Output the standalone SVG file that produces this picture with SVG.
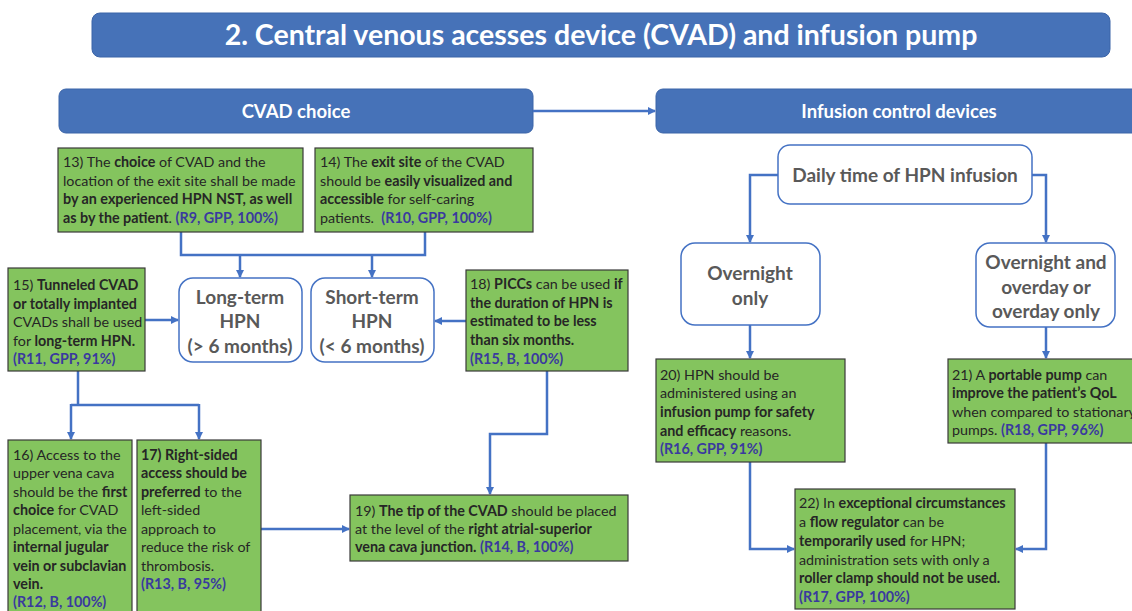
<svg xmlns="http://www.w3.org/2000/svg" width="1132" height="611" viewBox="0 0 1132 611">
<defs>
<marker id="ah" markerWidth="8" markerHeight="8" refX="7" refY="4" orient="auto" markerUnits="userSpaceOnUse">
<path d="M0,0 L8,4 L0,8 Z" fill="#4472C4"/>
</marker>
<style>
.hdr{fill:#4672B8;stroke:#3B64A8;stroke-width:1}
.hdrt{font-family:Lato,"Liberation Sans",sans-serif;font-weight:bold;fill:#fff;text-anchor:middle}
.g{fill:#84C45E;stroke:#3A3A3A;stroke-width:1.2}
.w{fill:#fff;stroke:#4472C4;stroke-width:1.5}
.wt{font-family:Lato,"Liberation Sans",sans-serif;font-weight:bold;fill:#595959;font-size:19px;text-anchor:middle}
.t{font-family:Lato,"Liberation Sans",sans-serif;font-size:14.3px;fill:#262626}
.b{font-weight:bold}
.r{font-weight:bold;fill:#3A3A9E}
.c{fill:none;stroke:#4472C4;stroke-width:2.5}
.ca{fill:none;stroke:#4472C4;stroke-width:2.5;marker-end:url(#ah)}
</style>
</defs>
<rect width="1132" height="611" fill="#fff"/>

<g id="title">
<rect class="hdr" x="92" y="13" width="1018" height="44" rx="8"/>
<text class="hdrt" x="601" y="45" font-size="28.5">2. Central venous acesses device (CVAD) and infusion pump</text>
</g>

<g id="cvad-choice">
<rect class="hdr" x="59" y="89" width="474" height="44" rx="7"/>
<text class="hdrt" x="296" y="118" font-size="18.5">CVAD choice</text>
</g>

<g id="infusion-control">
<rect class="hdr" x="656" y="89" width="500" height="44" rx="7"/>
<text class="hdrt" x="899" y="118" font-size="18.5">Infusion control devices</text>
</g>

<g id="connectors">
<path class="ca" d="M533,111 H655"/>
<path class="c" d="M181,232 V255 H425 V232"/>
<path class="ca" d="M240,255 V277"/>
<path class="ca" d="M372,255 V277"/>
<path class="ca" d="M145,320 H178"/>
<path class="ca" d="M466,321 H435"/>
<path class="c" d="M78,371 V405 M71,405 H199"/>
<path class="ca" d="M71,404 V439"/>
<path class="ca" d="M199,404 V439"/>
<path class="ca" d="M261,529 H349"/>
<path class="ca" d="M547,371 V434 H490 V494"/>
<path class="ca" d="M778,175 H750 V242"/>
<path class="ca" d="M1032,175 H1046 V242"/>
<path class="ca" d="M750,325 V358"/>
<path class="ca" d="M1046,327 V358"/>
<path class="ca" d="M750,462 V549 H794"/>
<path class="ca" d="M1046,443 V549 H1016"/>
</g>

<g id="n13">
<rect class="g" x="58" y="148" width="245" height="84"/>
<text class="t" x="63" y="167">13) The <tspan class="b">choice</tspan> of CVAD and the</text>
<text class="t" x="63" y="186">location of the exit site shall be made</text>
<text class="t b" x="63" y="204">by an experienced HPN NST, as well</text>
<text class="t" x="63" y="223"><tspan class="b">as by the patient</tspan>. <tspan class="r">(R9, GPP, 100%)</tspan></text>
</g>

<g id="n14">
<rect class="g" x="315" y="148" width="218" height="84"/>
<text class="t" x="320" y="167">14) The <tspan class="b">exit site</tspan> of the CVAD</text>
<text class="t" x="320" y="186">should be <tspan class="b">easily visualized and</tspan></text>
<text class="t" x="320" y="204"><tspan class="b">accessible</tspan> for self-caring</text>
<text class="t" x="320" y="223" xml:space="preserve">patients.  <tspan class="r">(R10, GPP, 100%)</tspan></text>
</g>

<g id="long-term">
<rect class="w" x="179" y="278" width="123" height="84" rx="14"/>
<text class="wt" x="240" y="304">Long-term</text>
<text class="wt" x="240" y="328">HPN</text>
<text class="wt" x="240" y="353">(&gt; 6 months)</text>
</g>

<g id="short-term">
<rect class="w" x="311" y="278" width="123" height="84" rx="14"/>
<text class="wt" x="372" y="304">Short-term</text>
<text class="wt" x="372" y="328">HPN</text>
<text class="wt" x="372" y="353">(&lt; 6 months)</text>
</g>

<g id="n15">
<rect class="g" x="8" y="268" width="137" height="103"/>
<text class="t" x="13" y="290">15) <tspan class="b">Tunneled CVAD</tspan></text>
<text class="t b" x="13" y="309">or totally implanted</text>
<text class="t" x="13" y="327">CVADs shall be used</text>
<text class="t" x="13" y="346">for <tspan class="b">long-term HPN.</tspan></text>
<text class="t r" x="13" y="364">(R11, GPP, 91%)</text>
</g>

<g id="n18">
<rect class="g" x="466" y="270" width="162" height="101"/>
<text class="t" x="470" y="289">18) <tspan class="b">PICCs</tspan> can be used <tspan class="b">if</tspan></text>
<text class="t b" x="470" y="308">the duration of HPN is</text>
<text class="t b" x="470" y="326">estimated to be less</text>
<text class="t b" x="470" y="345">than six months.</text>
<text class="t r" x="470" y="364">(R15, B, 100%)</text>
</g>

<g id="n16">
<rect class="g" x="8" y="440" width="124" height="180"/>
<text class="t" x="13" y="460">16) Access to the</text>
<text class="t" x="13" y="478">upper vena cava</text>
<text class="t" x="13" y="497">should be the <tspan class="b">first</tspan></text>
<text class="t" x="13" y="515"><tspan class="b">choice</tspan> for CVAD</text>
<text class="t" x="13" y="534">placement, via the</text>
<text class="t b" x="13" y="552">internal jugular</text>
<text class="t b" x="13" y="571">vein or subclavian</text>
<text class="t b" x="13" y="589">vein.</text>
<text class="t r" x="13" y="607">(R12, B, 100%)</text>
</g>

<g id="n17">
<rect class="g" x="137" y="440" width="124" height="180"/>
<text class="t b" x="141" y="460">17) Right-sided</text>
<text class="t b" x="141" y="478">access should be</text>
<text class="t" x="141" y="497"><tspan class="b">preferred</tspan> to the</text>
<text class="t" x="141" y="515">left-sided</text>
<text class="t" x="141" y="534">approach to</text>
<text class="t" x="141" y="552">reduce the risk of</text>
<text class="t" x="141" y="571">thrombosis.</text>
<text class="t r" x="141" y="589">(R13, B, 95%)</text>
</g>

<g id="n19">
<rect class="g" x="350" y="495" width="278" height="66"/>
<text class="t" x="355" y="516">19) <tspan class="b">The tip of the CVAD</tspan> should be placed</text>
<text class="t" x="355" y="534">at the level of the <tspan class="b">right atrial-superior</tspan></text>
<text class="t" x="355" y="552"><tspan class="b">vena cava junction.</tspan> <tspan class="r">(R14, B, 100%)</tspan></text>
</g>

<g id="daily">
<rect class="w" x="778" y="145" width="254" height="59" rx="12"/>
<text class="wt" x="905" y="182">Daily time of HPN infusion</text>
</g>

<g id="overnight-only">
<rect class="w" x="681" y="243" width="139" height="82" rx="14"/>
<text class="wt" x="750" y="280">Overnight</text>
<text class="wt" x="750" y="305">only</text>
</g>

<g id="overnight-overday">
<rect class="w" x="976" y="243" width="139" height="84" rx="14"/>
<text class="wt" x="1046" y="269">Overnight and</text>
<text class="wt" x="1046" y="294">overday or</text>
<text class="wt" x="1046" y="318">overday only</text>
</g>

<g id="n20">
<rect class="g" x="656" y="359" width="189" height="103"/>
<text class="t" x="660" y="380">20) HPN should be</text>
<text class="t" x="660" y="398">administered using an</text>
<text class="t b" x="660" y="417">infusion pump for safety</text>
<text class="t" x="660" y="436"><tspan class="b">and efficacy</tspan> reasons.</text>
<text class="t r" x="660" y="454">(R16, GPP, 91%)</text>
</g>

<g id="n21">
<rect class="g" x="948" y="359" width="200" height="84"/>
<text class="t" x="952" y="380">21) A <tspan class="b">portable pump</tspan> can</text>
<text class="t b" x="952" y="398">improve the patient’s QoL</text>
<text class="t" x="952" y="417">when compared to stationary</text>
<text class="t" x="952" y="435">pumps. <tspan class="r">(R18, GPP, 96%)</tspan></text>
</g>

<g id="n22">
<rect class="g" x="795" y="489" width="220" height="120"/>
<text class="t" x="799" y="508">22) In <tspan class="b">exceptional circumstances</tspan></text>
<text class="t" x="799" y="527">a <tspan class="b">flow regulator</tspan> can be</text>
<text class="t" x="799" y="546"><tspan class="b">temporarily used</tspan> for HPN;</text>
<text class="t" x="799" y="565">administration sets with only a</text>
<text class="t b" x="799" y="583">roller clamp should not be used.</text>
<text class="t r" x="799" y="602">(R17, GPP, 100%)</text>
</g>
</svg>
